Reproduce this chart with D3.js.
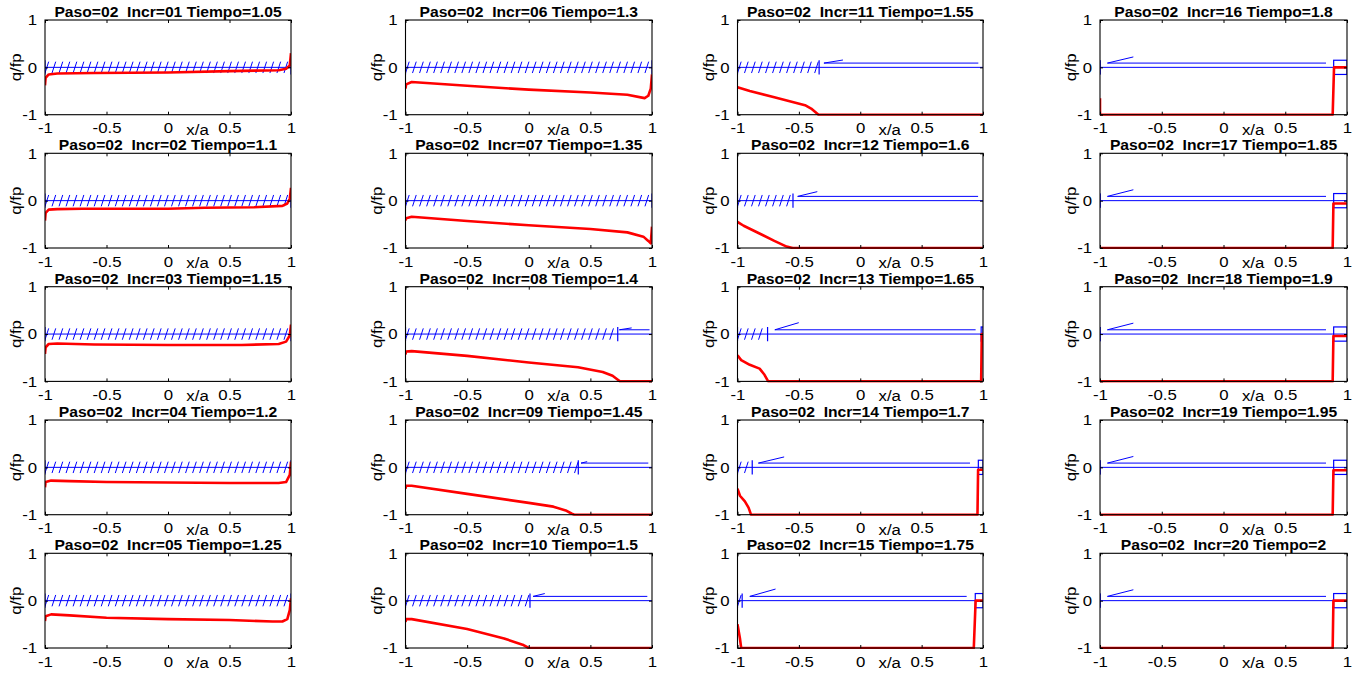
<!DOCTYPE html>
<html>
<head>
<meta charset="utf-8">
<script src="https://cdn.jsdelivr.net/npm/d3@7"></script>
<style>
  html, body { margin: 0; padding: 0; background: #fff; }
  svg text { font-family: "Liberation Sans", Arial, sans-serif; }
</style>
</head>
<body>
<svg id="chart" width="1362" height="675"></svg>
<script>
// ---------------- DATA ----------------
const paso = "02";
const incrLabels = ["01","02","03","04","05","06","07","08","09","10","11","12","13","14","15","16","17","18","19","20"];
const tiempoLabels = ["1.05","1.1","1.15","1.2","1.25","1.3","1.35","1.4","1.45","1.5","1.55","1.6","1.65","1.7","1.75","1.8","1.85","1.9","1.95","2"];
const xTicks = [-1, -0.5, 0, 0.5, 1];
const xTickLabels = ["-1", "-0.5", "0", "0.5", "1"];
const yTicks = [-1, 0, 1];
const yTickLabels = ["-1", "0", "1"];

// q/fp traction curves (x/a, q/fp)
const q01 = [[-1,-0.38],[-0.995,-0.22],[-0.97,-0.15],[-0.9,-0.13],[-0.6,-0.12],[0,-0.11],[0.5,-0.08],[0.9,-0.06],[0.96,-0.03],[0.99,0.04],[1,0.3]];
const q02 = [[-1,-0.42],[-0.995,-0.26],[-0.97,-0.19],[-0.9,-0.18],[-0.7,-0.17],[0,-0.17],[0.3,-0.15],[0.7,-0.14],[0.93,-0.11],[0.97,-0.06],[0.99,0.04],[1,0.27]];
const q03 = [[-1,-0.42],[-0.995,-0.28],[-0.97,-0.21],[-0.9,-0.2],[-0.6,-0.22],[0,-0.23],[0.6,-0.23],[0.9,-0.21],[0.96,-0.16],[0.99,-0.03],[1,0.2]];
const q04 = [[-1,-0.42],[-0.995,-0.31],[-0.95,-0.28],[-0.8,-0.29],[-0.5,-0.31],[0,-0.32],[0.5,-0.33],[0.9,-0.33],[0.96,-0.31],[0.99,-0.16],[1,0.12]];
const q05 = [[-1,-0.43],[-0.995,-0.33],[-0.95,-0.29],[-0.8,-0.31],[-0.5,-0.36],[0,-0.39],[0.5,-0.41],[0.85,-0.44],[0.93,-0.44],[0.97,-0.39],[0.99,-0.2],[1,0.05]];
const q06 = [[-1,-0.45],[-0.995,-0.36],[-0.95,-0.31],[-0.5,-0.39],[0,-0.47],[0.5,-0.53],[0.8,-0.58],[0.94,-0.65],[0.97,-0.6],[0.99,-0.45],[1,-0.15]];
const q07 = [[-1,-0.42],[-0.995,-0.37],[-0.95,-0.34],[-0.5,-0.43],[0,-0.52],[0.5,-0.6],[0.8,-0.67],[0.93,-0.76],[0.97,-0.85],[0.99,-0.9],[1,-0.55]];
const q08 = [[-1,-0.43],[-0.995,-0.37],[-0.95,-0.36],[-0.5,-0.46],[0,-0.6],[0.4,-0.7],[0.6,-0.8],[0.68,-0.88],[0.72,-0.96],[0.74,-1],[1,-1]];
const q09 = [[-1,-0.45],[-0.995,-0.39],[-0.95,-0.39],[-0.5,-0.56],[0,-0.75],[0.2,-0.83],[0.3,-0.91],[0.35,-0.98],[0.37,-1],[1,-1]];
const q10 = [[-1,-0.45],[-0.995,-0.39],[-0.95,-0.39],[-0.5,-0.6],[-0.2,-0.8],[-0.05,-0.93],[0,-1],[1,-1]];
const q11 = [[-1,-0.42],[-0.9,-0.5],[-0.7,-0.63],[-0.45,-0.8],[-0.4,-0.87],[-0.34,-1],[1,-1]];
const q12 = [[-1,-0.45],[-0.95,-0.53],[-0.8,-0.72],[-0.7,-0.85],[-0.6,-0.97],[-0.55,-1],[1,-1]];
const q13 = [[-1,-0.45],[-0.97,-0.55],[-0.9,-0.65],[-0.82,-0.73],[-0.78,-0.86],[-0.75,-1],[0.985,-1],[0.99,0],[1,0]];
const q14 = [[-1,-0.45],[-0.98,-0.6],[-0.94,-0.72],[-0.91,-0.85],[-0.89,-1],[0.955,-1],[0.96,-0.05],[1,-0.05]];
const q15 = [[-1,-0.5],[-0.98,-0.8],[-0.97,-1],[0.925,-1],[0.94,0],[1,0]];
const q16 = [[-1,-0.65],[-1,-1],[0.884,-1],[0.895,0],[1,0]];
const q17 = [[-1,-1],[0.884,-1],[0.89,-0.06],[1,-0.06]];
const q18 = [[-1,-1],[0.884,-1],[0.89,-0.04],[1,-0.04]];
const q19 = [[-1,-1],[0.884,-1],[0.89,-0.06],[1,-0.06]];
const q20 = [[-1,-1],[0.884,-1],[0.89,0],[1,0]];
const qCurves = [q01,q02,q03,q04,q05,q06,q07,q08,q09,q10,q11,q12,q13,q14,q15,q16,q17,q18,q19,q20];

// stick/slip boundary (end of hatched stick zone)
const stickEnd = [1,1,1,1,1,1,1,0.722,0.402,0.01,-0.335,-0.548,-0.755,-0.88,-0.962,-1,-1,-1,-1,-1];
// slip arrow: start, end, barb size
const slipStart = [null,null,null,null,null,null,null,0.735,0.424,0.035,-0.296,-0.51,-0.696,-0.83,-0.9,-0.94,-0.94,-0.94,-0.94,-0.94];
const slipEnd   = [null,null,null,null,null,null,null,0.98,0.97,0.962,0.962,0.96,0.94,0.894,0.867,0.83,0.83,0.83,0.83,0.83];
const barbDx    = [null,null,null,null,null,null,null,0.1,0.05,0.095,0.155,0.16,0.195,0.21,0.21,0.21,0.21,0.21,0.21,0.21];
const barbDy    = [null,null,null,null,null,null,null,0.04,0.03,0.06,0.065,0.1,0.15,0.13,0.155,0.13,0.14,0.14,0.14,0.14];
const slipLevel = 0.09;
// right-hand stick box
const boxStart  = [null,null,null,null,null,null,null,null,null,null,null,null,0.985,0.962,0.937,0.892,0.892,0.892,0.892,0.892];
const boxHalf = 0.15;

// ---------------- LAYOUT ----------------
const colLeft = [45, 405.5, 737.5, 1100];
const colWidth = [246, 246.5, 245.5, 247];
const rowTop = [20, 153.3, 286.7, 420, 553.3];
const plotH = 94.7;
const fontPx = 15, stretch = 1.12;

const svg = d3.select("#chart");
const blue = "#0000ff", red = "#ff0000";

qCurves.forEach((curve, i) => {
  const col = Math.floor(i / 5), row = i % 5;
  const L = colLeft[col], T = rowTop[row], W = colWidth[col];
  const x = d3.scaleLinear().domain([-1, 1]).range([L, L + W]);
  const y = d3.scaleLinear().domain([-1, 1]).range([T + plotH, T]);
  const g = svg.append("g");

  // clip
  const clipId = "clip" + i;
  svg.append("clipPath").attr("id", clipId).append("rect")
    .attr("x", L).attr("y", T - 1).attr("width", W).attr("height", plotH + 2);
  const pg = g.append("g").attr("clip-path", `url(#${clipId})`);

  // baseline y=0
  pg.append("line").attr("x1", x(-1)).attr("x2", x(1)).attr("y1", y(0)).attr("y2", y(0))
    .attr("stroke", blue).attr("stroke-width", 1);

  // hatches in stick zone
  const c = stickEnd[i];
  const step = 2 / 35, hdx = 0.03, hh = 0.12;
  const hatchX = d3.range(-1, c - hdx + 1e-9, step);
  pg.selectAll(".h").data(hatchX).enter().append("line")
    .attr("x1", d => x(d)).attr("y1", y(-hh)).attr("x2", d => x(d + hdx)).attr("y2", y(hh))
    .attr("stroke", blue).attr("stroke-width", 1);
  // boundary ticks
  [-1, c].forEach(v => {
    pg.append("line").attr("x1", x(v)).attr("x2", x(v)).attr("y1", y(-0.15)).attr("y2", y(0.15))
      .attr("stroke", blue).attr("stroke-width", 1.2);
  });

  // slip arrow
  if (slipStart[i] !== null) {
    const s = slipStart[i];
    pg.append("path")
      .attr("d", d3.line()([[x(s + barbDx[i]), y(slipLevel + barbDy[i])], [x(s), y(slipLevel)], [x(slipEnd[i]), y(slipLevel)]]))
      .attr("fill", "none").attr("stroke", blue).attr("stroke-width", 1);
  }

  // right stick box
  if (boxStart[i] !== null) {
    pg.append("rect").attr("x", x(boxStart[i])).attr("y", y(boxHalf))
      .attr("width", x(1) - x(boxStart[i])).attr("height", y(-boxHalf) - y(boxHalf))
      .attr("fill", "none").attr("stroke", blue).attr("stroke-width", 1.2);
  }

  // red traction curve
  pg.append("path").datum(curve)
    .attr("d", d3.line().x(d => x(d[0])).y(d => y(d[1])))
    .attr("fill", "none").attr("stroke", red).attr("stroke-width", 2.6)
    .attr("stroke-linejoin", "round");

  // axes box
  g.append("rect").attr("x", L).attr("y", T).attr("width", W).attr("height", plotH)
    .attr("fill", "none").attr("stroke", "#000").attr("stroke-width", 1.1);

  // ticks via d3 axes (inward, both sides)
  const fmtX = (d, k) => xTickLabels[k];
  const fmtY = (d, k) => yTickLabels[k];
  const axB = g.append("g").attr("transform", `translate(0,${T + plotH})`)
    .call(d3.axisBottom(x).tickValues(xTicks).tickFormat(fmtX).tickSizeInner(-3).tickSizeOuter(0).tickPadding(8));
  const axT = g.append("g").attr("transform", `translate(0,${T})`)
    .call(d3.axisTop(x).tickValues(xTicks).tickFormat("").tickSizeInner(-3).tickSizeOuter(0));
  const axL = g.append("g").attr("transform", `translate(${L},0)`)
    .call(d3.axisLeft(y).tickValues(yTicks).tickFormat(fmtY).tickSizeInner(-3).tickSizeOuter(0).tickPadding(7));
  const axR = g.append("g").attr("transform", `translate(${L + W},0)`)
    .call(d3.axisRight(y).tickValues(yTicks).tickFormat("").tickSizeInner(-3).tickSizeOuter(0));
  [axB, axT, axL, axR].forEach(a => {
    a.select(".domain").remove();
    a.selectAll("line").attr("stroke", "#000");
    a.selectAll("text").attr("fill", "#000").style("font-size", fontPx + "px")
      .style("font-family", '"Liberation Sans", Arial, sans-serif')
      .attr("transform", `scale(${stretch},1)`);
  });

  // labels
  g.append("text").attr("transform", `translate(${x(0.24)},${T + plotH + 20}) scale(${stretch},1)`)
    .attr("text-anchor", "middle").style("font-size", fontPx + "px").text("x/a");
  g.append("text").attr("transform", `translate(${L - 24},${y(0)}) rotate(-90) scale(${stretch},1)`)
    .attr("text-anchor", "middle").style("font-size", fontPx + "px").text("q/fp");
  g.append("text").attr("transform", `translate(${L + W / 2},${T - 3}) scale(1.08,1)`)
    .attr("text-anchor", "middle")
    .style("font-size", "14.5px").style("font-weight", "bold")
    .attr("xml:space", "preserve")
    .text(`Paso=${paso}  Incr=${incrLabels[i]} Tiempo=${tiempoLabels[i]}`);
});
</script>
</body>
</html>
